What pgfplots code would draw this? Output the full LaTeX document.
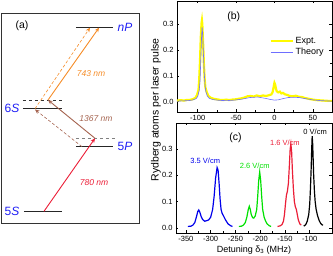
\documentclass[border=0pt]{standalone}
\usepackage{pgfplots}
\pgfplotsset{compat=1.18}
\usepackage{fontspec}
\setmainfont{Liberation Sans}
\usetikzlibrary{arrows.meta}
\definecolor{lvlblue}{RGB}{30,30,245}
\definecolor{cred}{RGB}{235,30,55}
\definecolor{corange}{RGB}{245,140,40}
\definecolor{cbrown}{RGB}{165,100,80}
\definecolor{cgreen}{RGB}{0,225,0}
\definecolor{cblue}{RGB}{0,0,235}
\definecolor{cyellow}{RGB}{255,250,0}
\definecolor{ctheory}{RGB}{110,110,255}
\begin{document}
\begin{tikzpicture}
\path[use as bounding box] (0,0) rectangle (333pt,256pt);
% ---------------- panel (a)
\begin{axis}[at={(1pt,33pt)}, anchor=south west, scale only axis,
  width=138pt, height=210pt, xmin=1, xmax=139, ymin=33, ymax=243,
  xtick=\empty, ytick=\empty, clip=false,
  axis line style={black!80, line width=0.6pt}]
\addplot[black!85, line width=1.1pt] coordinates {(76,228.3) (113,228.3)};
\addplot[black!85, line width=1.1pt] coordinates {(23,147.3) (62,147.3)};
\addplot[black!85, line width=1.1pt] coordinates {(76,109.3) (113,109.3)};
\addplot[black!85, line width=1.1pt] coordinates {(24,44.7) (62,44.7)};
\addplot[black!80, dashed, line width=0.5pt] coordinates {(23,156) (63,156)};
\addplot[gray, dashed, line width=0.7pt] coordinates {(76,117.7) (115,117.7)};
% arrows
\addplot[cred, line width=0.9pt, -{Stealth[length=4.5pt,width=4pt]}] coordinates {(44,44.7) (95,117.7)};
\addplot[cbrown, line width=0.9pt, -{Stealth[length=4.5pt,width=4pt]}] coordinates {(95,117.7) (48,156)};
\addplot[cbrown, densely dashed, line width=0.6pt, -{Stealth[length=4.5pt,width=4pt]}] coordinates {(82,109.3) (35,146.5)};
\addplot[corange, line width=0.9pt, -{Stealth[length=4.5pt,width=4pt]}] coordinates {(48,156) (99,228.3)};
\addplot[corange, densely dashed, line width=0.6pt, -{Stealth[length=4.5pt,width=4pt]}] coordinates {(35,147.3) (90,228.3)};
% labels
\node[font=\fontsize{10.5}{12}\selectfont] at (axis cs:22,230) {(a)};
\node[font=\fontsize{12}{14}\selectfont, text=lvlblue] at (axis cs:125,228.3) {\textit{nP}};
\node[font=\fontsize{12}{14}\selectfont, text=lvlblue] at (axis cs:12,147.3) {6\textit{S}};
\node[font=\fontsize{12}{14}\selectfont, text=lvlblue] at (axis cs:125,109.3) {5\textit{P}};
\node[font=\fontsize{12}{14}\selectfont, text=lvlblue] at (axis cs:12,44.7) {5\textit{S}};
\node[font=\fontsize{8.5}{10}\selectfont\itshape, text=corange] at (axis cs:91,182) {743 nm};
\node[font=\fontsize{8.5}{10}\selectfont\itshape, text=cbrown] at (axis cs:96,137) {1367 nm};
\node[font=\fontsize{8.5}{10}\selectfont\itshape, text=cred] at (axis cs:94,73) {780 nm};
\end{axis}
% ---------------- panel (b)
\begin{axis}[at={(177pt,144pt)}, anchor=south west, scale only axis,
  width=155pt, height=111pt, xmin=-127, xmax=75, ymin=-0.04, ymax=0.39,
  xtick={-100,-50,0,50}, ytick={0,0.1,0.2,0.3},
  minor x tick num=1, minor y tick num=1,
  tick align=inside, xtick pos=both, ytick pos=both,
  major tick length=2.5pt, minor tick length=1.5pt,
  tick style={black, line width=0.5pt},
  axis line style={black, line width=0.6pt},
  yticklabel style={/pgf/number format/fixed, /pgf/number format/fixed zerofill, /pgf/number format/precision=1},
  /pgf/number format/assume math mode=true,
  ticklabel style={font=\fontsize{7.5}{8}\selectfont},
  legend cell align=left,
  legend style={draw=none, fill=none, at={(axis description cs:0.98,0.71)}, anchor=north east,
    font=\fontsize{9}{10}\selectfont, row sep=-1pt},
  legend image code/.code={\draw[#1] (0pt,0pt) -- (22pt,0pt);},
  ]
\addplot[cyellow, line width=2.2pt] coordinates {
(-127,0.004) (-122,0.006) (-118,0.004) (-114,0.007) (-110,0.007) (-106,0.01)
(-103,0.015) (-101,0.025) (-99,0.045) (-98,0.09) (-97,0.16) (-96,0.25)
(-95,0.305) (-94.5,0.315) (-94,0.30) (-93,0.23) (-92,0.15) (-91,0.09)
(-90,0.055) (-88,0.035) (-86,0.022) (-83,0.015) (-79,0.011) (-75,0.009)
(-71,0.007) (-67,0.006) (-63,0.008) (-59,0.006) (-55,0.008) (-51,0.009)
(-47,0.011) (-43,0.013) (-39,0.016) (-35,0.021) (-31,0.022) (-27,0.02)
(-23,0.024) (-19,0.021) (-15,0.024) (-11,0.022) (-7,0.025) (-4,0.028)
(-2.5,0.036) (-1.5,0.05) (-0.5,0.066) (0,0.073) (1,0.066) (2,0.05)
(3,0.04) (5,0.036) (7,0.039) (9,0.032) (11,0.034) (14,0.028)
(17,0.026) (20,0.022) (24,0.021) (28,0.023) (32,0.019) (36,0.018)
(40,0.014) (45,0.011) (50,0.008) (55,0.006) (60,0.005) (65,0.004)
(70,0.003) (75,0.003)};
\addlegendentry{Expt.}
\addplot[ctheory, line width=0.6pt] coordinates {
(-127,0.002) (-120,0.003) (-112,0.004) (-106,0.007) (-102,0.012) (-100,0.02)
(-98,0.045) (-97,0.08) (-96,0.16) (-95,0.25) (-94.3,0.289) (-93.5,0.26)
(-92.5,0.18) (-91.5,0.11) (-90.5,0.065) (-89.5,0.04) (-87.5,0.022) (-85,0.013)
(-80,0.008) (-72,0.005) (-62,0.004) (-52,0.006) (-42,0.01) (-32,0.016)
(-22,0.018) (-12,0.013) (-6,0.009) (0,0.006) (5,0.007) (10,0.011)
(18,0.016) (25,0.017) (32,0.016) (40,0.012) (50,0.007) (60,0.004)
(75,0.002)};
\addlegendentry{Theory}
\node[font=\fontsize{10.5}{12}\selectfont] at (axis cs:-53,0.33) {(b)};
\end{axis}
% ---------------- panel (c)
\begin{axis}[at={(176pt,23pt)}, anchor=south west, scale only axis,
  width=156pt, height=110pt, xmin=-370, xmax=-55, ymin=-0.02, ymax=0.40,
  xtick={-350,-300,-250,-200,-150,-100}, ytick={0,0.1,0.2,0.3},
  minor x tick num=1, minor y tick num=1,
  tick align=inside, xtick pos=both, ytick pos=both,
  major tick length=2.5pt, minor tick length=1.5pt,
  tick style={black, line width=0.5pt},
  axis line style={black, line width=0.6pt},
  yticklabel style={/pgf/number format/fixed, /pgf/number format/fixed zerofill, /pgf/number format/precision=1},
  /pgf/number format/assume math mode=true,
  ticklabel style={font=\fontsize{7.5}{8}\selectfont},
  xlabel={Detuning δ\textsubscript{3} (MHz)},
  xlabel style={font=\fontsize{9}{10}\selectfont, yshift=3pt},
  ]
\addplot[cblue, line width=1.2pt] coordinates {
(-346,0.005) (-340,0.006) (-336,0.01) (-332,0.02) (-329,0.04) (-326,0.062)
(-324,0.068) (-322,0.06) (-319,0.042) (-316,0.031) (-312,0.025) (-308,0.027)
(-304,0.03) (-300,0.04) (-296,0.07) (-293,0.12) (-290,0.19) (-287,0.23)
(-285,0.22) (-283,0.17) (-281,0.11) (-279,0.07) (-277,0.056) (-274,0.045)
(-270,0.03) (-265,0.015) (-260,0.008) (-256,0.005)};
\addplot[cgreen, line width=1.2pt] coordinates {
(-243,0.005) (-238,0.006) (-234,0.01) (-230,0.02) (-227,0.04) (-224,0.07)
(-222,0.082) (-220,0.07) (-218,0.05) (-215,0.038) (-213,0.037) (-210,0.045)
(-207,0.07) (-205,0.12) (-203,0.18) (-201,0.213) (-199,0.18) (-197,0.12)
(-195,0.07) (-192,0.04) (-189,0.025) (-186,0.015) (-182,0.008) (-178,0.005)};
\addplot[cred, line width=1.2pt] coordinates {
(-165,0.005) (-160,0.007) (-156,0.012) (-153,0.025) (-151,0.05) (-149,0.09)
(-147,0.125) (-145,0.14) (-143,0.17) (-141,0.24) (-139.5,0.3) (-138,0.32)
(-136.5,0.29) (-135,0.22) (-133,0.15) (-131,0.1) (-129,0.08) (-127,0.07)
(-125,0.05) (-123,0.03) (-120,0.015) (-117,0.01)};
\addplot[black, line width=1.2pt] coordinates {
(-112,0.006) (-108,0.012) (-105,0.025) (-102,0.05) (-100,0.09) (-98.5,0.15)
(-97,0.23) (-96,0.3) (-95,0.35) (-94,0.32) (-93,0.26) (-92,0.2)
(-90.5,0.14) (-89,0.1) (-87,0.07) (-84,0.045) (-81,0.028) (-78,0.017)
(-75,0.011) (-73,0.01)};
\node[font=\fontsize{10.5}{12}\selectfont] at (axis cs:-250,0.345) {(c)};
\node[font=\fontsize{7.5}{9}\selectfont, text=cblue] at (axis cs:-311,0.255) {3.5 V/cm};
\node[font=\fontsize{7.5}{9}\selectfont, text=cgreen] at (axis cs:-211,0.238) {2.6 V/cm};
\node[font=\fontsize{7.5}{9}\selectfont, text=cred] at (axis cs:-150,0.325) {1.6 V/cm};
\node[font=\fontsize{7.5}{9}\selectfont, text=black] at (axis cs:-89,0.365) {0 V/cm};
\end{axis}
\node[rotate=90, font=\fontsize{10.5}{12}\selectfont] at (156pt,146pt) {Rydberg atoms per laser pulse};
\end{tikzpicture}
\end{document}
